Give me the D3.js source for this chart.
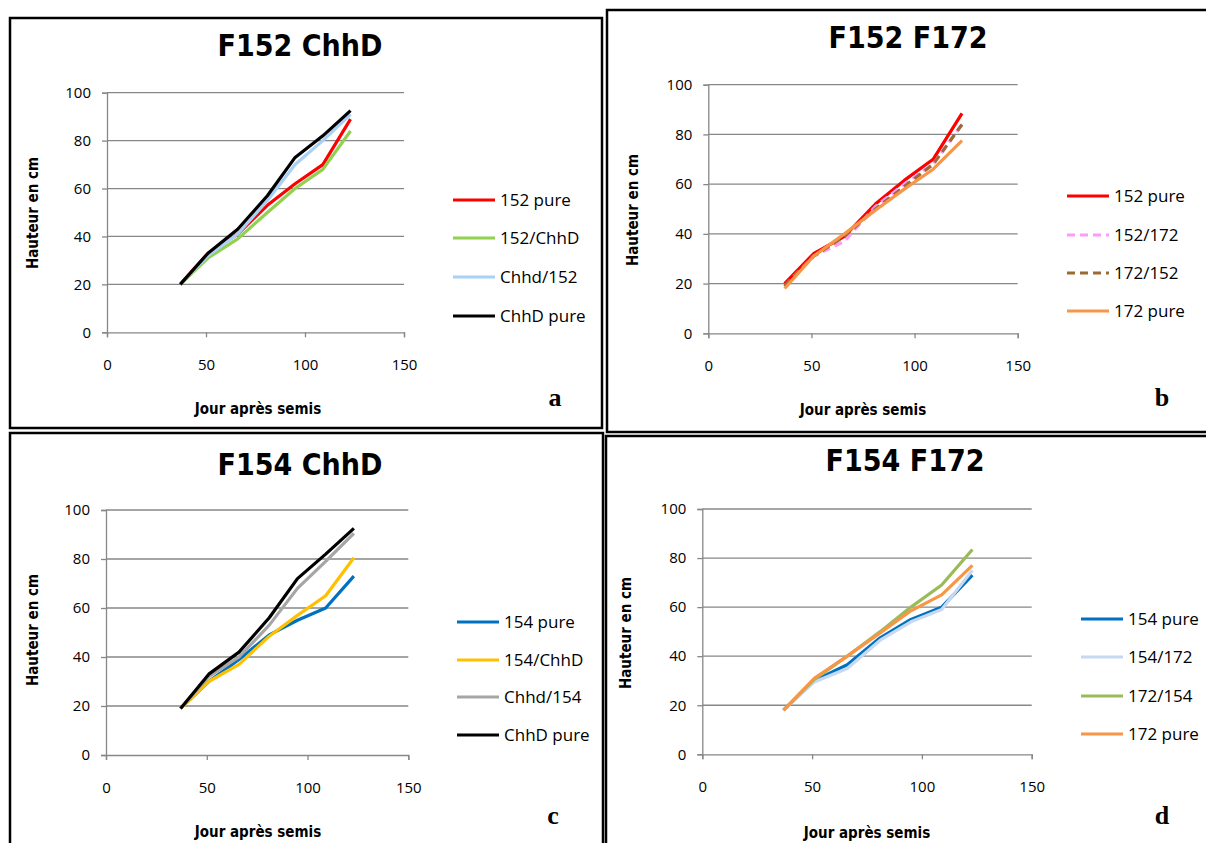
<!DOCTYPE html>
<html>
<head>
<meta charset="utf-8">
<script src="https://cdn.jsdelivr.net/npm/d3@7"></script>
<style>
  body { margin: 0; background: #fff; }
  svg { display: block; }
  .tick text { font-family: "Open Sans", "Noto Sans", sans-serif; font-size: 15px; fill: #000; }
  .leg { font-family: "Open Sans", "Noto Sans", sans-serif; font-size: 17px; fill: #000; }
  .ttl { font-family: "DejaVu Sans", "Open Sans", sans-serif; font-stretch: condensed; font-weight: bold; font-size: 30px; }
  .axt { font-family: "DejaVu Sans", "Open Sans", sans-serif; font-stretch: condensed; font-weight: bold; font-size: 15px; }
  .lab { font-family: "Liberation Serif", "DejaVu Serif", serif; font-weight: bold; font-size: 26px; }
</style>
</head>
<body>
<svg id="chart" width="1206" height="843"></svg>
<script>
// sampling days (Jour après semis)
const days = [37, 51, 66, 81, 95, 109, 123];
const xTicks = [0, 50, 100, 150];
const yTicks = [0, 20, 40, 60, 80, 100];

// a : F152 ChhD
const aNames = ['152 pure', '152/ChhD', 'Chhd/152', 'ChhD pure'];
const a152pure = [20, 33, 41, 53, 62, 70, 89];
const a152chhd = [20, 31, 39, 50, 60, 68, 84];
const aChhd152 = [20, 32, 41, 55, 70, 80, 91];
const aChhdPure = [20, 33, 43, 57, 73, 82, 92.5];

// b : F152 F172
const bNames = ['152 pure', '152/172', '172/152', '172 pure'];
const b152pure = [20, 32, 39, 52, 61.5, 70, 88.5];
const b152_172 = [19, 31, 37, 51, 60, 68, 84];
const b172_152 = [19, 31, 39, 50, 59, 68, 84];
const b172pure = [18, 31, 40, 49.5, 58, 66, 77.5];

// c : F154 ChhD
const cNames = ['154 pure', '154/ChhD', 'Chhd/154', 'ChhD pure'];
const c154pure = [19, 30, 39, 49, 55, 60, 73];
const c154chhd = [19, 30, 37, 48.5, 57, 65, 80.5];
const cChhd154 = [19, 32, 40, 53, 68, 79, 90.5];
const cChhdPure = [19, 33, 42, 56, 72, 82, 92.5];

// d : F154 F172
const dNames = ['154 pure', '154/172', '172/154', '172 pure'];
const d154pure = [18, 30, 36.5, 47.5, 55, 60, 73];
const d154_172 = [18, 29.5, 35, 46.5, 54, 59, 75];
const d172_154 = [18, 30.5, 40, 50, 60, 69, 83.5];
const d172pure = [18, 31, 40, 49.5, 58.5, 65, 77];

const panels = [
  { title: 'F152 ChhD', letter: 'a', names: aNames, series: [a152pure, a152chhd, aChhd152, aChhdPure],
    colors: ['#ff0000', '#92d050', '#a9d1f7', '#000000'], dash: [null, null, null, null],
    frame: [10, 18, 592, 410], titleXY: [300, 56], plot: [107, 92.7, 404, 332.3],
    legX: 453, legY: [200, 238, 277, 316], yLab: [33, 213], xLab: [258, 409], letXY: [555, 406] },
  { title: 'F152 F172', letter: 'b', names: bNames, series: [b152pure, b152_172, b172_152, b172pure],
    colors: ['#ff0000', '#ff99ff', '#9c6a35', '#f79646'], dash: [null, '8,5', '8,5', null],
    frame: [607, 10, 610, 422], titleXY: [908, 48], plot: [708.3, 84.7, 1017.7, 333.3],
    legX: 1067, legY: [196, 235, 273, 311], yLab: [633, 210], xLab: [863, 410], letXY: [1162, 406] },
  { title: 'F154 ChhD', letter: 'c', names: cNames, series: [c154pure, c154chhd, cChhd154, cChhdPure],
    colors: ['#0070c0', '#ffc000', '#a6a6a6', '#000000'], dash: [null, null, null, null],
    frame: [10, 433, 593, 420], titleXY: [300, 475], plot: [106, 510, 408.3, 755],
    legX: 457, legY: [622, 660, 697, 735], yLab: [33, 630], xLab: [258, 832], letXY: [553, 824] },
  { title: 'F154 F172', letter: 'd', names: dNames, series: [d154pure, d154_172, d172_154, d172pure],
    colors: ['#0070c0', '#c6d9f1', '#9bbb59', '#f79646'], dash: [null, null, null, null],
    frame: [606, 436, 610, 420], titleXY: [905, 471], plot: [702.3, 509, 1031.7, 754.3],
    legX: 1081, legY: [619, 657, 696, 734], yLab: [626, 633], xLab: [867, 833], letXY: [1162, 824] }
];

const svg = d3.select('#chart');

panels.forEach(p => {
  const g = svg.append('g');

  g.append('rect')
    .attr('x', p.frame[0]).attr('y', p.frame[1])
    .attr('width', p.frame[2]).attr('height', p.frame[3])
    .attr('fill', 'none').attr('stroke', '#000').attr('stroke-width', 2.5);

  g.append('text').attr('class', 'ttl')
    .attr('x', p.titleXY[0]).attr('y', p.titleXY[1])
    .attr('text-anchor', 'middle').text(p.title);

  const [x0, y0, x1, y1] = p.plot;
  const x = d3.scaleLinear().domain([0, 150]).range([x0, x1]);
  const y = d3.scaleLinear().domain([0, 100]).range([y1, y0]);

  // gridlines
  g.append('g').selectAll('line')
    .data(yTicks.filter(t => t > 0))
    .enter().append('line')
    .attr('x1', x0).attr('x2', x1)
    .attr('y1', d => y(d)).attr('y2', d => y(d))
    .attr('stroke', '#878787').attr('stroke-width', 1.3);

  const yAxis = g.append('g')
    .attr('transform', `translate(${x0},0)`)
    .call(d3.axisLeft(y).tickValues(yTicks).tickSize(5).tickPadding(11));
  const xAxis = g.append('g')
    .attr('transform', `translate(0,${y1})`)
    .call(d3.axisBottom(x).tickValues(xTicks).tickSize(5).tickPadding(22));
  [yAxis, xAxis].forEach(ax => {
    ax.select('.domain').attr('stroke', '#878787').attr('stroke-width', 1.3);
    ax.selectAll('.tick line').attr('stroke', '#878787').attr('stroke-width', 1.3);
  });

  const line = d3.line().x((d, i) => x(days[i])).y(d => y(d));

  p.series.forEach((s, k) => {
    g.append('path')
      .datum(s)
      .attr('d', line)
      .attr('fill', 'none')
      .attr('stroke', p.colors[k])
      .attr('stroke-width', 3.2)
      .attr('stroke-linejoin', 'round')
      .attr('stroke-dasharray', p.dash[k]);
  });

  // legend
  p.names.forEach((n, k) => {
    const ly = p.legY[k];
    g.append('line')
      .attr('x1', p.legX).attr('x2', p.legX + 42)
      .attr('y1', ly).attr('y2', ly)
      .attr('stroke', p.colors[k]).attr('stroke-width', 3)
      .attr('stroke-dasharray', p.dash[k]);
    g.append('text').attr('class', 'leg')
      .attr('x', p.legX + 47).attr('y', ly + 6)
      .text(n);
  });

  g.append('text').attr('class', 'axt')
    .attr('transform', `translate(${p.yLab[0]},${p.yLab[1]}) rotate(-90)`)
    .attr('text-anchor', 'middle').attr('dy', '0.35em')
    .text('Hauteur en cm');

  g.append('text').attr('class', 'axt')
    .attr('x', p.xLab[0]).attr('y', p.xLab[1])
    .attr('text-anchor', 'middle').attr('dy', '0.35em')
    .text('Jour après semis');

  g.append('text').attr('class', 'lab')
    .attr('x', p.letXY[0]).attr('y', p.letXY[1])
    .attr('text-anchor', 'middle')
    .text(p.letter);
});
</script>
</body>
</html>
